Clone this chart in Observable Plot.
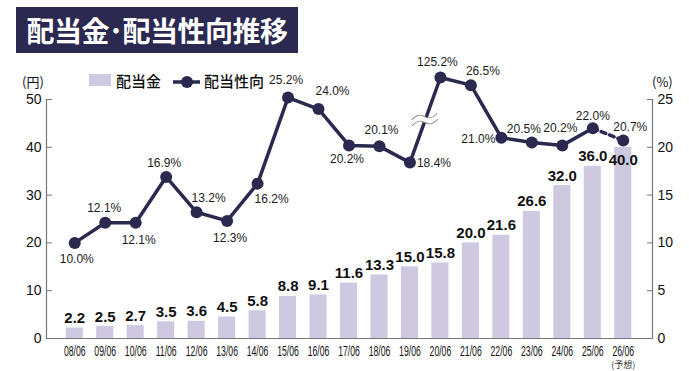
<!DOCTYPE html>
<html><head><meta charset="utf-8">
<script src="https://cdn.jsdelivr.net/npm/d3@7"></script>
<script src="https://cdn.jsdelivr.net/npm/@observablehq/plot@0.6"></script>
<style>
body{margin:0;background:#fff;}
#wrap{position:relative;width:689px;height:371px;overflow:hidden;font-family:"Liberation Sans",Arial,sans-serif;}
#chart{position:absolute;left:0;top:0;}
#title{position:absolute;left:16px;top:7px;width:282px;height:46px;background:#2b2950;color:#fff;font-family:"Noto Sans CJK JP",sans-serif;font-weight:700;font-size:28px;line-height:46px;text-align:center;letter-spacing:-0.5px;}
.lg{position:absolute;font-family:"Noto Sans CJK JP",sans-serif;font-size:15px;line-height:15px;color:#111;font-weight:500;}
.unit{position:absolute;font-family:"Noto Sans CJK JP",sans-serif;font-size:13px;line-height:14px;color:#111;}
</style></head><body>
<div id="wrap">
<div id="chart"></div>
<div id="title">配当金･配当性向推移</div>
<div style="position:absolute;left:89px;top:74px;width:22px;height:12px;background:#cec8e0"></div>
<div class="lg" style="left:116px;top:73px">配当金</div>
<svg style="position:absolute;left:173px;top:75px" width="28" height="14"><line x1="0" y1="7" x2="27" y2="7" stroke="#2b2950" stroke-width="3.5"/><circle cx="14" cy="7" r="6" fill="#2b2950"/></svg>
<div class="lg" style="left:204px;top:73px">配当性向</div>
<div class="unit" style="left:22px;top:75px">(円)</div>
<div class="unit" style="left:652px;top:75px">(%)</div>
</div>
<script>
// ---- data ----
const years = ["08/06","09/06","10/06","11/06","12/06","13/06","14/06","15/06","16/06","17/06","18/06","19/06","20/06","21/06","22/06","23/06","24/06","25/06","26/06"];
const dividend = [2.2,2.5,2.7,3.5,3.6,4.5,5.8,8.8,9.1,11.6,13.3,15.0,15.8,20.0,21.6,26.6,32.0,36.0,40.0];
const payout = [10.0,12.1,12.1,16.9,13.2,12.3,16.2,25.2,24.0,20.2,20.1,18.4,125.2,26.5,21.0,20.5,20.2,22.0,20.7];
const leftTicks = [0,10,20,30,40,50];
const rightTicks = [0,5,10,15,20,25];
const forecastNote = "(予想)";
const breakShownAt = 27.3; // off-scale value drawn just above the axis break

const navy = "#2b2950";
const lav = "#cec8e0";
const axisGray = "#777";

const rows = years.map((year, i) => ({
  year, dividend: dividend[i], payout: payout[i],
  shown: payout[i] > 100 ? breakShownAt : payout[i], i
}));
const pctY = d => d.shown * 2; // right axis 0–25% maps onto left 0–50

// label placement (dx, dy, textAnchor) for payout labels
const place = [
  [2,16,"middle"],[-1,-15,"middle"],[3,17,"middle"],[-2,-14,"middle"],[12,-14,"middle"],
  [3,17,"middle"],[14,16,"middle"],[-2,-17,"middle"],[14,-18,"middle"],[-2,14,"middle"],
  [2,-16,"middle"],[7,1,"start"],[-3,-15,"middle"],[12,-14,"middle"],[-6,1,"end"],
  [-8,-13,"middle"],[-2,-17,"middle"],[0,-12,"middle"],[7,-13,"middle"]
];

function breakMark(index, scales) {
  const sx = scales.x;
  const bw = typeof sx.bandwidth === "function" ? sx.bandwidth() : 0;
  const a = rows[11], b = rows[12];
  const cx = (sx(a.year) + sx(b.year)) / 2 + bw / 2;
  const cy = (scales.y(pctY(a)) + scales.y(pctY(b))) / 2;
  const g = d3.create("svg:g").attr("transform", `translate(${cx},${cy}) rotate(-6)`);
  const wave = y0 => `M-13,${y0+2} C-7,${y0-4} -3,${y0-2} 0,${y0} S7,${y0+4} 13,${y0-2}`;
  g.append("path").attr("d", wave(0)).attr("fill","none").attr("stroke","#fff").attr("stroke-width",6);
  g.append("path").attr("d", wave(-3)).attr("fill","none").attr("stroke","#888").attr("stroke-width",1);
  g.append("path").attr("d", wave(3)).attr("fill","none").attr("stroke","#888").attr("stroke-width",1);
  return g.node();
}

const pctLabels = rows.map((d, i) => Plot.text([d], {
  x: "year", y: pctY, text: r => r.payout.toFixed(1) + "%",
  dx: place[i][0], dy: place[i][1], textAnchor: place[i][2],
  fontSize: 12, fill: "#1a1a1a", fontFamily: "Liberation Sans, Arial, sans-serif"
}));

const plot = Plot.plot({
  width: 689, height: 371,
  marginLeft: 46, marginRight: 37, marginTop: 99, marginBottom: 33,
  style: {fontFamily: "Liberation Sans, Arial, sans-serif", background: "transparent"},
  x: {domain: years, paddingInner: 0.44, paddingOuter: 0.22, insetLeft: 13, insetRight: 14, round: false, label: null},
  y: {domain: [0, 50], label: null},
  marks: [
    Plot.barY(rows, {x: "year", y: "dividend", fill: lav}),
    Plot.ruleY([0], {stroke: axisGray, strokeWidth: 1.2}),
    Plot.frame({anchor: "left", stroke: axisGray, strokeWidth: 1.2}),
    Plot.frame({anchor: "right", stroke: axisGray, strokeWidth: 1.2}),
    Plot.axisY(leftTicks, {anchor: "left", tickSize: -6, tickPadding: 11, fontSize: 14, stroke: axisGray, fill: "#111", label: null}),
    Plot.axisY(rightTicks.map(d => d * 2), {anchor: "right", tickSize: -6, tickPadding: 11, fontSize: 14, tickFormat: d => d / 2, stroke: axisGray, fill: "#111", label: null}),
    Plot.axisX({tickSize: 0, tickPadding: 8, fontSize: 14, fill: "#111", label: null}),
    Plot.text([rows[18]], {x: "year", frameAnchor: "bottom", text: () => forecastNote, dy: 29, fontSize: 9, fill: "#333", fontFamily: "Noto Sans CJK JP, sans-serif"}),
    Plot.text(rows.filter(d => d.i < 18), {x: "year", y: "dividend", text: d => d.dividend.toFixed(1), lineAnchor: "bottom", dy: -5, fontSize: 15, fontWeight: "bold", fill: "#111"}),
    Plot.text(rows.filter(d => d.i === 18), {x: "year", y: "dividend", text: d => d.dividend.toFixed(1), lineAnchor: "bottom", dy: 18, fontSize: 15, fontWeight: "bold", fill: "#111"}),
    Plot.line(rows.filter(d => d.i <= 17), {x: "year", y: pctY, stroke: navy, strokeWidth: 3.5, strokeLinejoin: "round"}),
    Plot.line(rows.filter(d => d.i >= 17), {x: "year", y: pctY, stroke: navy, strokeWidth: 3.5, strokeDasharray: "5,4"}),
    breakMark,
    Plot.dot(rows, {x: "year", y: pctY, r: 6, fill: navy}),
    ...pctLabels
  ]
});
// condense the category labels like the reference's narrow face
d3.select(plot).selectAll("text")
  .filter(function() { return /^\d\d\/\d\d$/.test(this.textContent.trim()); })
  .each(function() {
    this.style.fontSize = "14px";
    const t = this.getAttribute("transform");
    if (t) {
      this.setAttribute("transform", t + " scale(0.62,1)");
    } else {
      const x = +this.getAttribute("x") || 0, y = +this.getAttribute("y") || 0;
      this.removeAttribute("x"); this.removeAttribute("y");
      this.setAttribute("transform", `translate(${x},${y}) scale(0.62,1)`);
    }
  });
document.getElementById("chart").appendChild(plot);
</script>
</body></html>
